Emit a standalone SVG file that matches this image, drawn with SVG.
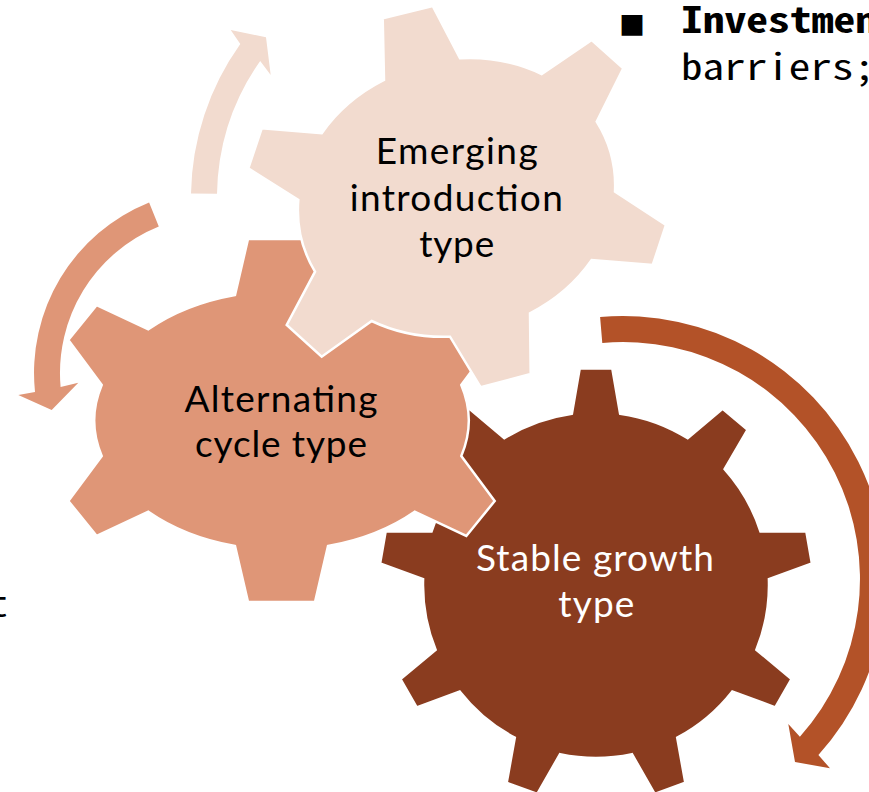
<svg xmlns="http://www.w3.org/2000/svg" width="869" height="792" viewBox="0 0 869 792">
<style>
.gear{stroke:#FFFFFF;stroke-width:2.5;stroke-linejoin:miter}
.g1{fill:#F2DBCF}
.g2{fill:#DF9677}
.g3{fill:#8A3C1F}
.lbl{font-family:Lato,"Open Sans","Liberation Sans",sans-serif;font-size:37px;text-anchor:middle}
.dark{fill:#000000}
.light{fill:#FFFFFF}
.mono{font-family:"Noto Sans Mono CJK SC","DejaVu Sans Mono","Liberation Mono",monospace;font-size:36px;fill:#000000}
</style>
<rect width="869" height="792" fill="#FFFFFF"/>
<g id="connectors">
<path id="arrow-emerging" class="g1" d="M191,193.4 A265,265 0 0 1 240.3,44.1 L230.7,30 L266,37.3 L270.7,75 L260.2,60.9 A239,239 0 0 0 217,193.8 Z"/>
<path id="arrow-alternating" class="g2" d="M149.1,202.4 A184,184 0 0 0 35,391.9 L18.3,395 L51.7,410 L78.3,382.7 L60.6,387 A158,158 0 0 1 158.8,226.5 Z"/>
<path id="arrow-stable" fill="#B35228" d="M600.1,317 A263,263 0 0 1 818.4,755 L830,768.3 L795,762 L788.3,724 L799.9,736.7 A237,237 0 0 0 602.3,342.9 Z"/>
</g>
<g id="stable-growth">
<path class="gear g3" d="M571.9,413.7 L579.7,368.6 L612.3,368.6 L620.1,413.7 A173,173 0 0 1 687.7,438.3 L722.6,408.8 L747.6,429.7 L724.6,469.2 A173,173 0 0 1 760.5,531.5 L806.3,531.4 L811.9,563.5 L768.9,579 A173,173 0 0 1 756.4,649.8 L791.5,679.1 L775.3,707.3 L732.3,691.5 A173,173 0 0 1 677.2,737.7 L685.3,782.8 L654.7,793.9 L632,754.2 A173,173 0 0 1 560,754.2 L537.3,793.9 L506.7,782.8 L514.8,737.7 A173,173 0 0 1 459.7,691.5 L416.7,707.3 L400.5,679.1 L435.6,649.8 A173,173 0 0 1 423.1,579 L380.1,563.5 L385.7,531.4 L431.5,531.5 A173,173 0 0 1 467.4,469.2 L444.4,429.7 L469.4,408.8 L504.3,438.3 A173,173 0 0 1 571.9,413.7 Z"/>
<text class="lbl light" x="595" y="570.7" textLength="238">Stable growth</text>
<text class="lbl light" x="596.3" y="616.7" textLength="76">type</text>
</g>
<g id="alternating-cycle">
<path class="gear g2" d="M235,295 L248,239 L315,239 L328,295 A188,128 0 0 1 414.7,329.3 L466.3,305 L494.7,340 L461.3,385 A188,128 0 0 1 461.3,456 L494.7,501 L466.3,536 L414.7,511.7 A188,128 0 0 1 328,546 L315,602 L248,602 L235,546 A188,128 0 0 1 148.3,511.7 L96.7,536 L68.3,501 L101.7,456 A188,128 0 0 1 101.7,385 L68.3,340 L96.7,305 L148.3,329.3 A188,128 0 0 1 235,295 Z"/>
<text class="lbl dark" x="281" y="411.7" textLength="193">Alternating</text>
<text class="lbl dark" x="281" y="456.7" textLength="172">cycle type</text>
</g>
<g id="emerging-introduction">
<path class="gear g1" d="M384,80 L382.7,18.3 L432.7,6 L460,58.3 A160,138 -15 0 1 541.7,74 L591.7,40 L623.3,68.3 L596.7,121.7 A160,138 -15 0 1 615,191.7 L666,225 L652.7,265 L591.7,260 A160,138 -15 0 1 530,313.3 L530.7,374 L480.7,387.3 L450,336.7 A160,138 -15 0 1 371.7,321 L321.7,356.7 L286.7,325 L315,271.7 A160,138 -15 0 1 298.3,200 L248.3,168.3 L261.7,128.3 L321.7,133.3 A160,138 -15 0 1 384,80 Z"/>
<text class="lbl dark" x="456.7" y="164" textLength="162">Emerging</text>
<text class="lbl dark" x="456.3" y="210.7" textLength="213">introduction</text>
<text class="lbl dark" x="456.7" y="256.7" textLength="75">type</text>
</g>
<g id="side-text">
<text x="619" y="35" font-family="'Noto Sans CJK SC','DejaVu Sans',sans-serif" font-size="26" fill="#000000">■</text>
<text class="mono" x="681" y="33" font-weight="bold" textLength="196" lengthAdjust="spacingAndGlyphs">Investmen</text>
<text class="mono" x="681" y="80" textLength="194" lengthAdjust="spacingAndGlyphs">barriers;</text>
<text class="mono" x="-13" y="617" textLength="21" lengthAdjust="spacingAndGlyphs">t</text>
</g>
</svg>
